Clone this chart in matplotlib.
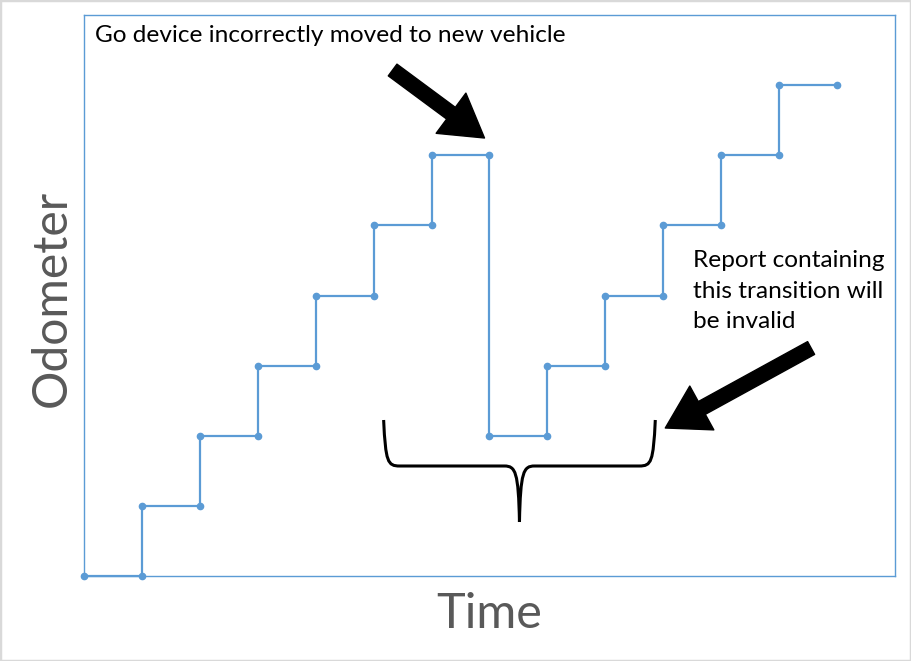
import matplotlib
matplotlib.use("Agg")
import matplotlib.pyplot as plt
from matplotlib.path import Path
from matplotlib.patches import PathPatch, Rectangle

# Data: odometer step trace (time index, odometer level)
time_pts = [0, 1, 1, 2, 2, 3, 3, 4, 4, 5, 5, 6, 6, 7, 7, 8, 8, 9, 9, 10, 10, 11, 11, 12, 12, 13]
odo_pts = [0, 0, 1, 1, 2, 2, 3, 3, 4, 4, 5, 5, 6, 6, 2, 2, 3, 3, 4, 4, 5, 5, 6, 6, 7, 7]

title_text = "Go device incorrectly moved to new vehicle"
note_text = "Report containing\nthis transition will\nbe invalid"
xlabel = "Time"
ylabel = "Odometer"

BLUE = "#5B9BD5"
GRAY = "#595959"
FONT = ["Lato", "DejaVu Sans"]

fig = plt.figure(figsize=(9.11, 6.61), dpi=100)
ax = fig.add_axes([84 / 911, 1 - 576 / 661, (895 - 84) / 911, (576 - 15) / 661])
ax.set_xlim(0, 14)
ax.set_ylim(0, 8)
ax.set_xticks([])
ax.set_yticks([])
for s in ax.spines.values():
    s.set_color(BLUE)
    s.set_linewidth(1.0)

ax.plot(time_pts, odo_pts, color=BLUE, lw=1.6, marker="o", ms=4.5, clip_on=False, zorder=3)

# outer light gray border
fig.patches.append(Rectangle((0, 0), 1, 1, transform=fig.transFigure, fill=False,
                             edgecolor="#D9D9D9", lw=2.5))


def px(x, y):
    return ((x - 84) / 58.0, (576 - y) / 70.125)


ax.text(*px(95, 35), title_text, fontsize=17.6, family=FONT, va="center", ha="left")
ax.text(*px(694, 291), note_text, fontsize=17.6, family=FONT, va="center", ha="left",
        linespacing=1.58)
ax.text(*px(490, 614), xlabel, fontsize=35, family=FONT, color=GRAY, ha="center",
        va="center", clip_on=False)
ax.text(*px(52, 298), ylabel, fontsize=34.6, family=FONT, color=GRAY, ha="center",
        va="center", rotation=90, clip_on=False)

arrow_style = "simple,head_length=3.0,head_width=3.6,tail_width=1.05"
ax.annotate("", xy=px(485, 138), xytext=px(393, 70),
            arrowprops=dict(arrowstyle=arrow_style, color="black", mutation_scale=10,
                            shrinkA=0, shrinkB=0))
ax.annotate("", xy=px(666, 428), xytext=px(812, 348),
            arrowprops=dict(arrowstyle=arrow_style, color="black", mutation_scale=10,
                            shrinkA=0, shrinkB=0))

# curly brace
verts = [px(384, 420), px(386, 462), px(388, 466), px(400, 466),
         px(505, 466),
         px(516, 466), px(519, 472), px(520, 522),
         px(656, 420), px(654, 462), px(652, 466), px(640, 466),
         px(535, 466),
         px(524, 466), px(521, 472), px(520, 522)]
codes = [Path.MOVETO, Path.CURVE4, Path.CURVE4, Path.CURVE4,
         Path.LINETO,
         Path.CURVE4, Path.CURVE4, Path.CURVE4,
         Path.MOVETO, Path.CURVE4, Path.CURVE4, Path.CURVE4,
         Path.LINETO,
         Path.CURVE4, Path.CURVE4, Path.CURVE4]
ax.add_patch(PathPatch(Path(verts, codes), fill=False, edgecolor="black", lw=2.2,
                       capstyle="butt", joinstyle="round"))

fig.savefig("out.png", dpi=100)
